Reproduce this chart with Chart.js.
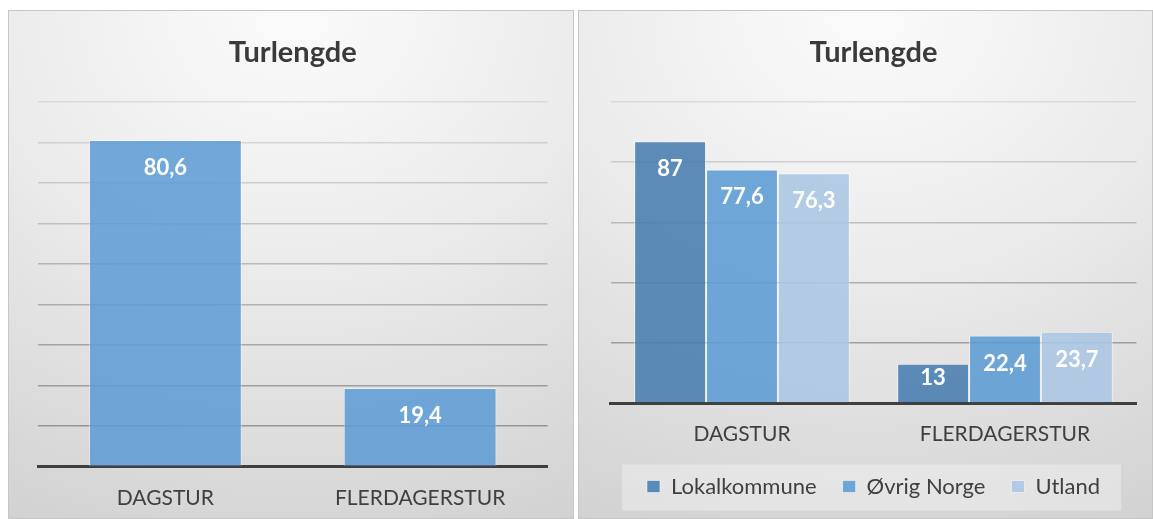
<!DOCTYPE html>
<html>
<head>
<meta charset="utf-8">
<script src="https://cdn.jsdelivr.net/npm/chart.js@4"></script>
<style>
  body { margin: 0; background: #fff; width: 1153px; height: 519px; overflow: hidden; font-family: Lato, sans-serif; }
  .panel {
    position: absolute;
    top: 10px;
    height: 509px;
    box-sizing: border-box;
    border: 1px solid #c6c6c6;
    background: radial-gradient(ellipse 120% 115% at 50% 0%, #fbfbfb 0%, #ebebeb 45%, #d0d0d0 100%);
  }
  .panel canvas { position: absolute; left: -1px; top: -1px; }
  #leftPanel { left: 8px; width: 566px; }
  #rightPanel { left: 578px; width: 575px; }
</style>
</head>
<body>
<div class="panel" id="leftPanel"><canvas id="leftChart" width="566" height="509"></canvas></div>
<div class="panel" id="rightPanel"><canvas id="rightChart" width="575" height="509"></canvas></div>
<script>
'use strict'
const chartTitle = "Turlengde"
const categories = ["DAGSTUR", "FLERDAGERSTUR"]
const totalValues = [80.6, 19.4]
const seriesNames = ["Lokalkommune", "Øvrig Norge", "Utland"]
const lokalValues = [87, 13]
const ovrigValues = [77.6, 22.4]
const utlandValues = [76.3, 23.7]

Chart.defaults.font.family = "Lato, 'Open Sans', sans-serif"
Chart.defaults.color = "#404040"
Chart.defaults.animation = false

// white numbers inside the top of each bar
const valueLabels = {
    id: "valueLabels",
    afterDatasetsDraw(chart) {
        const ctx = chart.ctx
        ctx.save()
        ctx.font = "bold 22px Lato"
        ctx.fillStyle = "#ffffff"
        ctx.textAlign = "center"
        ctx.textBaseline = "alphabetic"
        chart.data.datasets.forEach((ds, i) => {
            chart.getDatasetMeta(i).data.forEach((bar, j) => {
                const h = bar.base - bar.y
                const txt = String(ds.data[j]).replace(".", ",")
                ctx.fillText(txt, bar.x, bar.y + Math.min(35, h * 0.55))
            })
        })
        ctx.restore()
    }
}

// light box behind the legend
const legendBox = {
    id: "legendBox",
    beforeDraw(chart) {
        const legend = chart.legend
        if (!legend || !legend.options.display) return
        const hb = legend.legendHitBoxes
        if (!hb || !hb.length) return
        const first = hb[0]
        const last = hb[hb.length - 1]
        const cy = first.top + first.height / 2
        const ctx = chart.ctx
        ctx.save()
        ctx.fillStyle = "rgba(255,255,255,0.32)"
        ctx.fillRect(first.left - 25, cy - 22, last.left + last.width - first.left + 46, 46)
        ctx.restore()
    }
}

function gridColor(max) {
    return function (c) {
        const v = c.tick ? c.tick.value : 0
        const a = 0.55 - 0.42 * (v / max)
        return "rgba(80,80,80," + a.toFixed(2) + ")"
    }
}

function makeOptions(max, step, pad, axisHeight, showLegend) {
    return {
        responsive: false,
        devicePixelRatio: 1,
        layout: { padding: pad },
        plugins: {
            title: {
                display: true,
                text: chartTitle,
                color: "#3a3a3a",
                font: { size: 29, weight: "bold" },
                padding: { top: 25.2, bottom: 32 }
            },
            legend: {
                display: showLegend,
                position: "bottom",
                labels: {
                    boxWidth: 13,
                    boxHeight: 12,
                    padding: 26,
                    color: "#404040",
                    font: { size: 22 }
                }
            },
            tooltip: { enabled: false }
        },
        scales: {
            x: {
                grid: { display: false },
                border: { display: true, color: "#3f3f3f", width: 3 },
                ticks: { color: "#404040", font: { size: 21 }, padding: 11 },
                afterFit(scale) { scale.height = axisHeight }
            },
            y: {
                min: 0,
                max: max,
                ticks: { display: false, stepSize: step },
                border: { display: false },
                grid: { drawTicks: false, color: gridColor(max), lineWidth: 1.5 }
            }
        }
    }
}

const leftChart = new Chart(document.getElementById("leftChart"), {
    type: "bar",
    data: {
        labels: categories,
        datasets: [{
            label: chartTitle,
            data: totalValues,
            backgroundColor: "rgba(91,155,213,0.85)",
            borderColor: "rgba(255,255,255,0.45)",
            borderWidth: 1,
            barPercentage: 0.6,
            categoryPercentage: 1
        }]
    },
    options: makeOptions(90, 10, { left: 30, right: 26.5, top: 0, bottom: 0 }, 52.5, false),
    plugins: [valueLabels]
})

const seriesData = [lokalValues, ovrigValues, utlandValues]
const seriesColors = ["rgba(70,124,176,0.87)", "rgba(91,155,213,0.87)", "rgba(171,197,229,0.87)"]
const rightDatasets = []
for (let i = 0; i < seriesNames.length; i++) {
    rightDatasets.push({
        label: seriesNames[i],
        data: seriesData[i],
        backgroundColor: seriesColors[i],
        borderColor: "rgba(255,255,255,0.5)",
        borderWidth: 1,
        barPercentage: 1,
        categoryPercentage: 0.82
    })
}

const rightChart = new Chart(document.getElementById("rightChart"), {
    type: "bar",
    data: { labels: categories, datasets: rightDatasets },
    options: makeOptions(100, 20, { left: 32.5, right: 16.5, top: 0, bottom: 11.5 }, 46.5, true),
    plugins: [legendBox, valueLabels]
})
</script>
</body>
</html>
